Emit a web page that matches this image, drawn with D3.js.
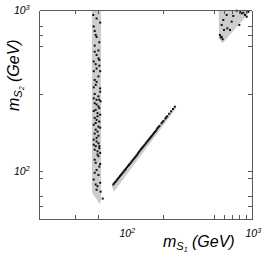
<!DOCTYPE html>
<html>
<head>
<meta charset="utf-8">
<script src="https://cdn.jsdelivr.net/npm/d3@7"></script>
<style>
	body { margin: 0; background: #fff; }
	svg text { font-family: "Liberation Sans", Arial, sans-serif; font-style: italic; fill: #000; }
	.axis path, .axis line { stroke: #5a5a5a; stroke-width: 1; shape-rendering: crispEdges; }
</style>
</head>
<body>
<svg id="chart" width="266" height="257"></svg>
<script>
// axis ranges (GeV)
const xDomain = [20.6, 1000];
const yDomain = [50, 1000];
const xTicks = [40, 60, 200, 500, 600, 700, 800, 900];
const yTicks = [60, 70, 90, 100, 300, 600, 700, 800];
const xLabels = [100, 1000];
const yLabels = [100, 1000];

// allowed regions, [mS1, mS2]
const bandRegion = [[54.2, 1000], [64.0, 1000], [64.0, 66], [62.8, 61.5], [54.2, 73]];
const diagRegion = [[78, 80], [250, 254], [254, 246], [81, 74]];
const cornerRegion = [[548, 1000], [1000, 1000], [590, 622], [552, 665]];

// points passing all constraints, [mS1, mS2]
const bandPoints = [
	[55.5, 931], [59, 885], [63, 835], [56, 790], [57, 740], [58, 700], [59, 680], [62, 630],
	[57, 600], [61, 560], [57, 550], [59, 525], [61, 500], [56, 478], [62, 489], [58, 460],
	[62, 450], [59, 432], [56, 416], [63, 416], [61, 386], [57, 367], [59, 357], [58, 342],
	[56, 330], [63, 325], [63, 310], [57, 300], [61, 290], [56, 282], [59, 276], [62, 276],
	[63.5, 270], [57, 263], [59, 258], [61, 251], [62, 245], [58, 239], [56, 235], [60, 228],
	[63, 223], [60, 218], [57, 213], [59, 207], [62, 202], [58, 198], [56, 193], [61, 188],
	[63, 185], [58, 180], [60, 175], [57, 170], [61, 165], [59, 160], [56, 156], [59, 152],
	[61, 148], [56, 145], [58, 142], [62, 142], [62, 138], [57, 135], [60, 132], [63, 129],
	[60, 126], [61, 123], [57, 117], [58, 112], [63, 110], [62, 106], [59, 101], [57, 97],
	[61, 94], [56, 88], [63, 84], [58, 82], [60, 80], [59, 76], [63.5, 74], [66, 67]
];
const diagPoints = [
	[80, 82], [81.5, 83.5], [83, 85], [84.5, 86.5], [86, 88], [87.5, 89.5], [89, 91],
	[90.5, 92.5], [92, 94], [93.5, 95.5], [95, 97], [96.5, 98.5], [98, 100], [99.5, 101.5],
	[101, 103], [103, 105], [105, 107], [106.5, 108.5], [108, 110], [110, 112], [112, 114],
	[114, 116], [116, 118], [118, 120], [120, 122], [122, 124], [124, 126], [126, 128.5],
	[128, 131], [130.5, 133.5], [133, 136], [135, 138], [137, 140], [139.5, 142.5], [142, 145],
	[144.5, 147.5], [147, 150], [149.5, 152.5], [152, 155], [154.5, 157.5], [157, 160],
	[159.5, 162.5], [162, 165], [165, 168], [168, 171], [171, 174], [174, 177], [177, 180.5],
	[180, 184], [183, 187], [186, 190], [193, 197], [196.5, 200.5], [200, 204], [207, 211],
	[210.5, 214.5], [214, 218], [222, 226], [230, 234], [238, 242], [246, 250]
];
const cornerPoints = [
	[597, 867], [580, 807], [605, 751], [643, 769], [675, 751], [717, 918], [811, 975],
	[861, 961], [888, 931], [944, 975], [916, 908], [800, 807], [696, 846], [562, 699],
	[580, 680], [590, 658], [570, 675], [635, 931], [763, 990], [836, 953]
];

const svg = d3.select("#chart");
const plot = { left: 39, right: 251.5, top: 10, bottom: 219 };

const x = d3.scaleLog().domain(xDomain).range([plot.left, plot.right]);
const y = d3.scaleLog().domain(yDomain).range([plot.bottom, plot.top]);

const line = d3.line().x(d => x(d[0])).y(d => y(d[1]));

const regions = svg.append("g").attr("id", "regions");
[bandRegion, diagRegion, cornerRegion].forEach(r => {
	regions.append("path")
		.attr("d", line(r) + "Z")
		.attr("fill", "#cdcdcd");
});

const dots = svg.append("g").attr("id", "points");
dots.selectAll("rect")
	.data(bandPoints.concat(diagPoints, cornerPoints))
	.enter()
	.append("rect")
	.attr("x", d => x(d[0]) - 1)
	.attr("y", d => y(d[1]) - 1)
	.attr("width", 2)
	.attr("height", 2)
	.attr("fill", "#111");

// frame with inward ticks on all four sides
const tick = 4;
svg.append("g").attr("class", "axis")
	.attr("transform", `translate(0,${plot.bottom})`)
	.call(d3.axisBottom(x).tickValues(xTicks).tickFormat("").tickSizeInner(-tick).tickSizeOuter(0));
svg.append("g").attr("class", "axis")
	.attr("transform", `translate(0,${plot.top})`)
	.call(d3.axisTop(x).tickValues(xTicks).tickFormat("").tickSizeInner(-tick).tickSizeOuter(0));
svg.append("g").attr("class", "axis")
	.attr("transform", `translate(${plot.left},0)`)
	.call(d3.axisLeft(y).tickValues(yTicks).tickFormat("").tickSizeInner(-tick).tickSizeOuter(0));
svg.append("g").attr("class", "axis")
	.attr("transform", `translate(${plot.right},0)`)
	.call(d3.axisRight(y).tickValues(yTicks).tickFormat("").tickSizeInner(-tick).tickSizeOuter(0));
svg.selectAll(".axis text").remove();

function powerLabel(sel, v) {
	sel.append("tspan").text("10");
	sel.append("tspan").attr("dy", -4).attr("font-size", 7).text(Math.round(Math.log10(v)));
}

svg.append("g").selectAll("text")
	.data(xLabels)
	.enter()
	.append("text")
	.attr("x", d => x(d) - 6)
	.attr("y", 237)
	.attr("font-size", 10.5)
	.each(function (d) { powerLabel(d3.select(this), d); });

svg.append("g").selectAll("text")
	.data(yLabels)
	.enter()
	.append("text")
	.attr("x", 14)
	.attr("y", d => y(d) + 4)
	.attr("font-size", 10.5)
	.each(function (d) { powerLabel(d3.select(this), d); });

function massTitle(sel, idx) {
	sel.append("tspan").text("m");
	sel.append("tspan").attr("dy", 3).attr("font-size", 11).text("S");
	sel.append("tspan").attr("dy", 2).attr("font-size", 7).text(idx);
	sel.append("tspan").attr("dy", -5).text(" (GeV)");
}

svg.append("text")
	.attr("x", 163)
	.attr("y", 247)
	.attr("font-size", 16)
	.call(massTitle, "1");

svg.append("text")
	.attr("transform", "translate(19,111) rotate(-90)")
	.attr("font-size", 16)
	.call(massTitle, "2");
</script>
</body>
</html>
